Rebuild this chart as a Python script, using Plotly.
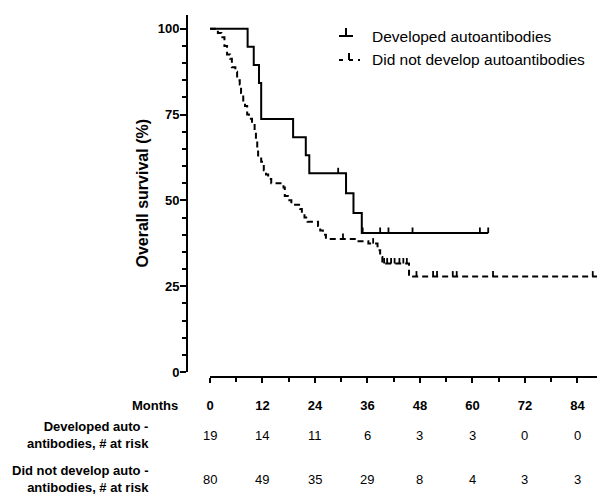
import plotly.graph_objects as go

# ---------------- data ----------------
dev_times = [0, 8.6, 10.0, 11.2, 11.7, 19.0, 21.9, 22.7, 31.1, 32.8, 34.7, 63.6]
dev_surv = [100, 94.74, 89.47, 84.21, 73.68, 68.42, 63.16, 57.89, 52.1, 46.3, 40.5, 40.5]
dev_censor = [29.3, 34.9, 38.9, 40.8, 46.3, 61.7, 63.6]

non_times = [0, 1.8, 2.6, 3.3, 3.9, 4.6, 5.0, 5.8, 6.2, 6.8, 7.1, 7.6, 8.0, 8.5, 8.9,
             9.6, 10.2, 10.5, 10.8, 11.0, 11.7, 12.3, 12.8, 13.3, 14.0, 16.8, 17.1,
             17.8, 18.6, 20.6, 21.0, 21.6, 22.3, 24.7, 25.2, 25.8, 26.5, 33.5, 36.2,
             38.3, 38.9, 39.4, 45.5, 89.8]
non_surv = [100, 98.75, 97.5, 95, 92.5, 91.25, 88.75, 87.5, 85, 83.75, 81.25, 78.75,
            77.5, 75, 73.75, 72.5, 70, 67.5, 65, 62.5, 61.25, 58.75, 57.5, 56.25, 55,
            53.75, 51.25, 50, 48.75, 47.5, 46.25, 45, 43.75, 42.5, 41.25, 40, 38.75,
            38.1, 37.4, 35.5, 33.5, 31.6, 27.8, 27.8]
non_censor = [30.4, 37.3, 39.8, 40.5, 41.4, 42.2, 43.3, 44.2, 45.0, 47.2, 51.0, 51.9,
              55.5, 56.4, 64.7, 87.5, 89.6]

risk_months = [0, 12, 24, 36, 48, 60, 72, 84]
risk_dev = [19, 14, 11, 6, 3, 3, 0, 0]
risk_non = [80, 49, 35, 29, 8, 4, 3, 3]

series_names = ["Developed autoantibodies", "Did not develop autoantibodies"]
risk_labels = ["Developed auto -<br>antibodies, # at risk",
               "Did not develop auto -<br>antibodies, # at risk"]

# ---------------- layout helpers (page pixel -> paper) ----------------
OFF = 8                      # default body margin of the page
W, H = 605 - OFF, 496 - OFF
ML = 187 - OFF
MT = 15 - OFF
MB = H - (377 - OFF)
MR = 0
PW, PH = W - ML - MR, H - MT - MB


def px(x):
    return (x - OFF - ML) / PW


def py(y):
    return (H - MB - (y - OFF)) / PH


FONT = "Arial, 'Liberation Sans', Helvetica, sans-serif"
TICK_H = 1.6


def surv_at(times, surv, t):
    val = surv[0]
    for ti, si in zip(times, surv):
        if ti <= t:
            val = si
    return val


def censor_xy(times, surv, cens):
    xs, ys = [], []
    for t in cens:
        s = surv_at(times, surv, t)
        xs += [t, t, None]
        ys += [s, s + TICK_H, None]
    return xs, ys


fig = go.Figure()

fig.add_trace(go.Scatter(x=non_times, y=non_surv, mode="lines", line_shape="hv",
                         line=dict(color="black", width=2, dash="6px,4px"),
                         name=series_names[1], showlegend=False))
cx, cy = censor_xy(non_times, non_surv, non_censor)
fig.add_trace(go.Scatter(x=cx, y=cy, mode="lines", line=dict(color="black", width=1.8),
                         showlegend=False, hoverinfo="skip"))

fig.add_trace(go.Scatter(x=dev_times, y=dev_surv, mode="lines", line_shape="hv",
                         line=dict(color="black", width=2),
                         name=series_names[0], showlegend=False))
cx, cy = censor_xy(dev_times, dev_surv, dev_censor)
fig.add_trace(go.Scatter(x=cx, y=cy, mode="lines", line=dict(color="black", width=1.8),
                         showlegend=False, hoverinfo="skip"))

fig.update_layout(
    width=W, height=H,
    margin=dict(l=ML, r=MR, t=MT, b=MB),
    paper_bgcolor="white", plot_bgcolor="white",
    font=dict(family=FONT, color="black"),
    xaxis=dict(domain=[px(210), 1], range=[0, 90.3], anchor="free", position=0,
               showline=True, linecolor="black", linewidth=2, showgrid=False,
               zeroline=False, ticks="outside", ticklen=5, tickwidth=2, tickcolor="black",
               tick0=0, dtick=12,
               minor=dict(ticks="outside", ticklen=4, tickwidth=1.5, tickcolor="black",
                          dtick=6, tick0=0, showgrid=False),
               tickfont=dict(family=FONT, size=13, weight="bold", color="black"),
               ticklabelstandoff=11),
    yaxis=dict(domain=[py(372), 1], range=[0, 104], anchor="free", position=0,
               showline=True, linecolor="black", linewidth=2, showgrid=False,
               zeroline=False, ticks="outside", ticklen=6, tickwidth=2, tickcolor="black",
               tick0=0, dtick=25,
               minor=dict(ticks="outside", ticklen=4, tickwidth=1.5, tickcolor="black",
                          dtick=5, tick0=0, showgrid=False),
               tickfont=dict(family=FONT, size=13, weight="bold", color="black"),
               ticklabelstandoff=-2),
)

annotations = []
# y-axis title
annotations.append(dict(x=px(142), y=py(193.5), xref="paper", yref="paper",
                        text="<b>Overall survival (%)</b>", textangle=-90, showarrow=False,
                        font=dict(family=FONT, size=16, color="black"),
                        xanchor="center", yanchor="middle"))
# Months label
annotations.append(dict(x=px(180), y=py(405), xref="paper", yref="paper",
                        text="<b>Months</b>", showarrow=False,
                        font=dict(family=FONT, size=13, color="black"),
                        xanchor="right", yanchor="middle"))
# risk table
for lab, vals, yc in [(risk_labels[0], risk_dev, 435), (risk_labels[1], risk_non, 479)]:
    annotations.append(dict(x=px(151), y=py(yc), xref="paper", yref="paper",
                            text="<b>" + lab + "</b>", showarrow=False, align="right",
                            font=dict(family=FONT, size=13, color="black"),
                            xanchor="right", yanchor="middle"))
    for m, v in zip(risk_months, vals):
        annotations.append(dict(x=m, y=py(yc), xref="x", yref="paper", text=str(v),
                                showarrow=False, font=dict(family=FONT, size=13, color="black"),
                                xanchor="center", yanchor="middle"))
# legend texts
for name, yc in zip(series_names, [37, 60]):
    annotations.append(dict(x=px(370), y=py(yc), xref="paper", yref="paper", text=name,
                            showarrow=False, font=dict(family=FONT, size=15.5, color="black"),
                            xanchor="left", yanchor="middle"))
fig.update_layout(annotations=annotations)

# legend symbols
ln = dict(color="black", width=2)
shapes = [
    dict(type="line", xref="paper", yref="paper", x0=px(339), x1=px(353), y0=py(36), y1=py(36), line=ln),
    dict(type="line", xref="paper", yref="paper", x0=px(346), x1=px(346), y0=py(36), y1=py(28), line=ln),
    dict(type="line", xref="paper", yref="paper", x0=px(339), x1=px(343), y0=py(60), y1=py(60), line=ln),
    dict(type="line", xref="paper", yref="paper", x0=px(349), x1=px(353), y0=py(60), y1=py(60), line=ln),
    dict(type="line", xref="paper", yref="paper", x0=px(349), x1=px(349), y0=py(60), y1=py(53), line=ln),
    dict(type="line", xref="paper", yref="paper", x0=px(358), x1=px(360), y0=py(60), y1=py(60), line=ln),
]
fig.update_layout(shapes=shapes)

fig.write_html("out.html")
